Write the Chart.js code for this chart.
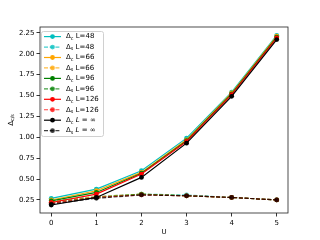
<!DOCTYPE html>
<html>
<head>
<meta charset="utf-8">
<script src="https://cdn.jsdelivr.net/npm/chart.js@4.4.0/dist/chart.umd.min.js"></script>
<style>
  html, body { margin: 0; padding: 0; background: #fff; }
  #wrap { width: 320px; height: 240px; }
</style>
</head>
<body>
<div id="wrap"><canvas id="chart" width="320" height="240"></canvas></div>
<script>
// data
const U = [0, 1, 2, 3, 4, 5];
const sizeLabels = ["48", "66", "96", "126", "∞"];
const lineColors = ["#00bfbf", "#ffa500", "#008000", "#ff0000", "#000000"];

const deltaC48 = [0.27, 0.38, 0.60, 0.99, 1.54, 2.22];
const deltaC66 = [0.25, 0.36, 0.58, 0.97, 1.53, 2.21];
const deltaC96 = [0.24, 0.34, 0.57, 0.96, 1.52, 2.20];
const deltaC126 = [0.22, 0.32, 0.56, 0.95, 1.51, 2.19];
const deltaCInf = [0.19, 0.28, 0.52, 0.93, 1.49, 2.17];

const deltaS48 = [0.24, 0.29, 0.32, 0.31, 0.28, 0.25];
const deltaS66 = [0.23, 0.29, 0.32, 0.30, 0.28, 0.25];
const deltaS96 = [0.22, 0.28, 0.32, 0.30, 0.28, 0.25];
const deltaS126 = [0.21, 0.28, 0.31, 0.30, 0.28, 0.25];
const deltaSInf = [0.20, 0.27, 0.31, 0.30, 0.28, 0.25];

const yTickValues = [0.25, 0.5, 0.75, 1.0, 1.25, 1.5, 1.75, 2.0, 2.25];

const cSeries = [deltaC48, deltaC66, deltaC96, deltaC126, deltaCInf];
const sSeries = [deltaS48, deltaS66, deltaS96, deltaS126, deltaSInf];

const FONT = "DejaVu Sans";
const DASH = [4, 1.7];

function withAlpha(hex, a) {
    const n = parseInt(hex.slice(1), 16);
    return "rgba(" + (n >> 16) + "," + ((n >> 8) & 255) + "," + (n & 255) + "," + a + ")";
}

const datasets = [];
let idx = 0;
sizeLabels.forEach((L, i) => {
    [["c", cSeries[i], lineColors[i], []], ["s", sSeries[i], withAlpha(lineColors[i], 0.75), DASH]].forEach(item => {
        datasets.push({
            kind: item[0],
            sizeLabel: L,
            data: U.map((u, k) => ({ x: u, y: item[1][k] })),
            borderColor: item[2],
            backgroundColor: item[2],
            pointBackgroundColor: item[2],
            pointBorderWidth: 0,
            pointRadius: 2.4,
            borderWidth: 1.2,
            borderDash: item[3],
            fill: false,
            tension: 0,
            order: 20 - idx
        });
        idx++;
    });
});

// draws Δ with a small subscript, then the rest; returns end x
function drawDelta(ctx, x, y, sub, size) {
    ctx.font = size + "px '" + FONT + "'";
    ctx.fillText("Δ", x, y);
    x += ctx.measureText("Δ").width;
    ctx.font = (size * 0.7) + "px '" + FONT + "'";
    ctx.fillText(sub, x, y + size * 0.3);
    x += ctx.measureText(sub).width;
    return x;
}

const framePlugin = {
    id: "frame",
    afterDatasetsDraw(chart) {
        const ctx = chart.ctx;
        const a = chart.chartArea;
        ctx.save();

        // axes box
        ctx.strokeStyle = "#222";
        ctx.lineWidth = 0.8;
        ctx.strokeRect(a.left, a.top, a.right - a.left, a.bottom - a.top);

        // legend
        const bx = 41, by = 31, bw = 62, bh = 105;
        ctx.beginPath();
        ctx.roundRect(bx + 0.5, by + 0.5, bw, bh, 2);
        ctx.fillStyle = "rgba(255,255,255,0.8)";
        ctx.fill();
        ctx.strokeStyle = "#d0d0d0";
        ctx.lineWidth = 1;
        ctx.stroke();

        chart.data.datasets.forEach((ds, i) => {
            const y = 36.6 + i * 10.45;
            ctx.strokeStyle = ds.borderColor;
            ctx.lineWidth = 1.2;
            ctx.setLineDash(ds.borderDash);
            ctx.beginPath();
            ctx.moveTo(44, y);
            ctx.lineTo(61, y);
            ctx.stroke();
            ctx.setLineDash([]);
            ctx.fillStyle = ds.borderColor;
            ctx.beginPath();
            ctx.arc(52.5, y, 2.4, 0, Math.PI * 2);
            ctx.fill();

            ctx.fillStyle = "#000";
            ctx.textBaseline = "middle";
            ctx.textAlign = "left";
            let x = drawDelta(ctx, 66, y, ds.kind, 7);
            ctx.font = "7px '" + FONT + "'";
            if (ds.sizeLabel === "∞") {
                ctx.fillText(" ", x, y);
                x += ctx.measureText(" ").width;
                ctx.font = "italic 7px '" + FONT + "'";
                ctx.fillText("L", x, y);
                x += ctx.measureText("L").width;
                ctx.font = "7px '" + FONT + "'";
                ctx.fillText(" = ∞", x, y);
            } else {
                ctx.fillText(" L=" + ds.sizeLabel, x, y);
            }
        });

        // axis titles
        ctx.fillStyle = "#000";
        ctx.textAlign = "center";
        ctx.textBaseline = "middle";
        ctx.font = "7px '" + FONT + "'";
        ctx.fillText("U", (a.left + a.right) / 2, 232);

        ctx.translate(12, (a.top + a.bottom) / 2);
        ctx.rotate(-Math.PI / 2);
        ctx.textAlign = "left";
        ctx.font = "7px '" + FONT + "'";
        const w = ctx.measureText("Δ").width;
        ctx.font = "4.9px '" + FONT + "'";
        const w2 = ctx.measureText("c/s").width;
        drawDelta(ctx, -(w + w2) / 2, -1, "c/s", 7);
        ctx.restore();
    }
};

const tickFont = { family: FONT, size: 7 };

new Chart(document.getElementById("chart"), {
    type: "line",
    data: { datasets: datasets },
    options: {
        responsive: false,
        animation: false,
        devicePixelRatio: 1,
        layout: { padding: { top: 27, right: 32, left: 0, bottom: 0 } },
        plugins: { legend: { display: false }, tooltip: { enabled: false } },
        scales: {
            x: {
                type: "linear",
                min: -0.25,
                max: 5.25,
                afterBuildTicks: s => { s.ticks = U.map(v => ({ value: v })); },
                afterFit: s => { s.height = 27; },
                ticks: { font: tickFont, color: "#000", padding: 2, autoSkip: false, maxRotation: 0,
                         callback: v => String(v) },
                grid: { drawOnChartArea: false, tickLength: 3.5, color: "#000", lineWidth: 0.8 },
                border: { display: false }
            },
            y: {
                type: "linear",
                min: 0.094,
                max: 2.32,
                afterBuildTicks: s => { s.ticks = yTickValues.map(v => ({ value: v })); },
                afterFit: s => { s.width = 40; },
                ticks: { font: tickFont, color: "#000", padding: 2, autoSkip: false,
                         callback: v => v.toFixed(2) },
                grid: { drawOnChartArea: false, tickLength: 3.5, color: "#000", lineWidth: 0.8 },
                border: { display: false }
            }
        }
    },
    plugins: [framePlugin]
});
</script>
</body>
</html>
